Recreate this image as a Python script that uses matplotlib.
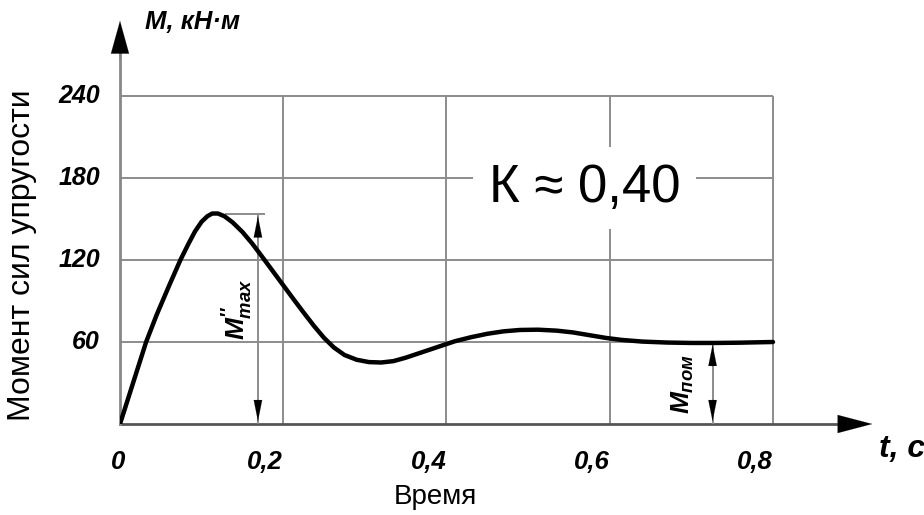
import matplotlib
matplotlib.use('Agg')
import matplotlib.pyplot as plt
from matplotlib import font_manager

# pick a narrow font if we have one
names = set(f.name for f in font_manager.fontManager.ttflist)
narrow = 'Liberation Sans Narrow' if 'Liberation Sans Narrow' in names else 'Liberation Sans'

plt.rcParams['font.family'] = ['Liberation Sans', 'DejaVu Sans']
plt.rcParams['mathtext.fontset'] = 'custom'
plt.rcParams['mathtext.it'] = narrow + ':italic:bold'
plt.rcParams['mathtext.rm'] = narrow + ':bold'
plt.rcParams['mathtext.bf'] = narrow + ':bold'

# values
t_vals = [0, 0.008, 0.016, 0.032, 0.045, 0.06, 0.074, 0.084, 0.092, 0.1, 0.107,
          0.113, 0.12, 0.128, 0.138, 0.15, 0.162, 0.174, 0.187, 0.2, 0.213, 0.225,
          0.238, 0.25, 0.262, 0.275, 0.29, 0.305, 0.32, 0.335, 0.35, 0.37, 0.39,
          0.41, 0.43, 0.45, 0.47, 0.49, 0.512, 0.535, 0.555, 0.575, 0.595, 0.615,
          0.64, 0.67, 0.7, 0.73, 0.76, 0.8]
m_vals = [0, 15, 30, 60, 80, 101, 120, 132, 141, 148, 152,
          154, 154, 152, 147.5, 140.5, 132, 122.5, 112, 101.5, 91, 81.5,
          71.5, 63, 56, 50.5, 47, 45.3, 45, 46, 48.5, 52.5, 56.5,
          60.5, 63.5, 66, 67.8, 68.8, 69, 68.3, 67, 65, 63, 61.5,
          60.3, 59.6, 59.3, 59.3, 59.5, 60]

x_ticks = [0, 0.2, 0.4, 0.6, 0.8]
x_labels = ['0', '0,2', '0,4', '0,6', '0,8']
y_ticks = [60, 120, 180, 240]
y_labels = ['60', '120', '180', '240']

m_max = 154
t_mmax_arrow = 0.169
m_nom = 60
t_mnom_arrow = 0.726

fig = plt.figure(figsize=(9.24, 5.15), dpi=100)
ax = fig.add_axes([120/924, 91/515, 755/924, 414/515])
ax.set_xlim(0, 0.925)
ax.set_ylim(0, 302.9)
ax.axis('off')

grid_c = '#8c8c8c'
ax.vlines(x_ticks[1:], 0, 240, colors=grid_c, lw=1.4, zorder=1)
ax.hlines(y_ticks, 0, 0.8, colors=grid_c, lw=1.4, zorder=1)

# axes with arrows
ax.plot([0, 0.9], [0, 0], color='#555555', lw=2, zorder=2, clip_on=False)
ax.plot([0, 0], [0, 280], color='#888888', lw=2, zorder=2, clip_on=False)
ax.annotate('', xy=(0.925, 0), xytext=(0.885, 0),
            arrowprops=dict(arrowstyle='-|>,head_length=1.9,head_width=0.5',
                            color='k', lw=0.1, mutation_scale=13), annotation_clip=False)
ax.annotate('', xy=(0, 297), xytext=(0, 265),
            arrowprops=dict(arrowstyle='-|>,head_length=1.8,head_width=0.5',
                            color='k', lw=0.1, mutation_scale=13), annotation_clip=False)

# tick labels
for xt, xl in zip(x_ticks, x_labels):
    dx = -2 if xt == 0 else -18
    ax.annotate(xl, (xt, 0), xytext=(dx, -38), textcoords='offset pixels',
                ha='center', va='center', fontsize=18.5, family=narrow,
                weight='bold', style='italic')
for yt, yl in zip(y_ticks, y_labels):
    ax.annotate(yl, (0, yt), xytext=(-20, 0), textcoords='offset pixels',
                ha='right', va='center', fontsize=18, family=narrow,
                weight='bold', style='italic')

fig.text(145/924, 1 - 22/515, 'M, кН·м', ha='left', va='center', fontsize=18.5,
         family=narrow, weight='bold', style='italic')
fig.text(902/924, 1 - 449/515, 't, c', ha='center', va='center', fontsize=23,
         family=narrow, weight='bold', style='italic')
fig.text(435/924, 1 - 497/515, 'Время', ha='center', va='center', fontsize=20)
fig.text(22/924, 1 - 255/515, 'Момент сил упругости', ha='center', va='center',
         fontsize=23, rotation=90)

# coefficient
ax.text(0.5693, 172.7, 'К ≈ 0,40', ha='center', va='center', fontsize=38, zorder=3,
        bbox=dict(boxstyle='square,pad=0.3', fc='white', ec='none'))

# main curve
ax.plot(t_vals, m_vals, color='k', lw=3.2, solid_capstyle='round',
        solid_joinstyle='round', zorder=5)

# M''max dimension
ax.hlines(m_max, 0.129, 0.178, colors=grid_c, lw=1.4, zorder=2)
ax.vlines(t_mmax_arrow, 0, m_max, colors=grid_c, lw=1.4, zorder=2)
head = dict(arrowstyle='-|>,head_length=1.5,head_width=0.3', color='k', lw=0.1,
            mutation_scale=10)
ax.annotate('', xy=(t_mmax_arrow, m_max), xytext=(t_mmax_arrow, m_max - 20), arrowprops=head)
ax.annotate('', xy=(t_mmax_arrow, 0), xytext=(t_mmax_arrow, 20), arrowprops=head)
ax.text(0.145, 84, r"$M^{\prime\prime}_{max}$", rotation=90, ha='center', va='center',
        fontsize=19, zorder=4)

# M nom dimension
ax.vlines(t_mnom_arrow, 0, m_nom, colors=grid_c, lw=1.4, zorder=2)
ax.annotate('', xy=(t_mnom_arrow, m_nom), xytext=(t_mnom_arrow, m_nom - 20), arrowprops=head)
ax.annotate('', xy=(t_mnom_arrow, 0), xytext=(t_mnom_arrow, 20), arrowprops=head)
ax.text(0.6895, 29, r"$M_{пом}$", rotation=90, ha='center', va='center',
        fontsize=19, zorder=4)

fig.savefig('out.png', dpi=100)
